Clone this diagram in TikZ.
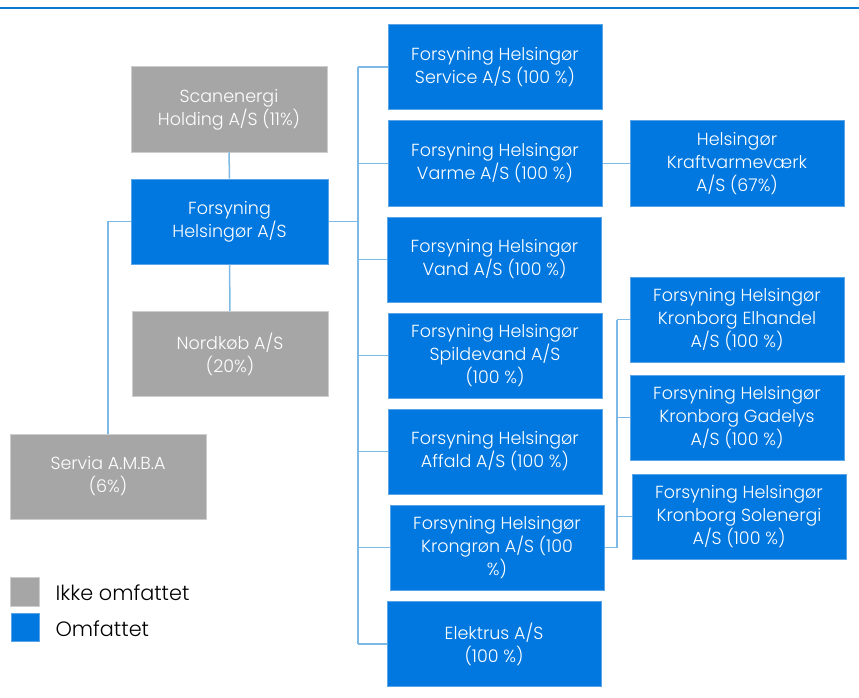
\documentclass[tikz,border=0pt]{standalone}
\usepackage{fontspec}
\setmainfont{Poppins Light}
\definecolor{bfill}{RGB}{0,120,224}
\definecolor{bline}{RGB}{90,165,230}
\definecolor{gfill}{RGB}{166,166,166}
\definecolor{gline}{RGB}{205,205,205}
\definecolor{conn}{RGB}{125,185,228}
\definecolor{topl}{RGB}{10,123,213}
\tikzset{
  box/.style={minimum width=214pt, minimum height=85pt, inner sep=2pt, align=center,
    font=\fontsize{17.5}{23}\selectfont, text=white, line width=1pt},
  bluebox/.style={box, fill=bfill, draw=bline},
  graybox/.style={box, fill=gfill, draw=gline, minimum width=196pt},
  link/.style={draw=conn, line width=1.5pt},
  legtext/.style={anchor=west, font=\fontsize{20.8}{24}\selectfont, text=black}
}
\begin{document}
\begin{tikzpicture}[x=1pt,y=-1pt]
\useasboundingbox (0,0) rectangle (859,698);
\draw[topl, line width=1.8pt] (0,8) -- (859,8);
% left group
\node[graybox] (scan) at (229,109.5) {Scanenergi\\Holding A/S (11\%)};
\node[bluebox, minimum width=197pt] (fh) at (229.5,221.5) {Forsyning\\Helsingør A/S};
\node[graybox] (nord) at (230,354) {Nordkøb A/S\\(20\%)};
\node[graybox] (servia) at (108,476.5) {Servia A.M.B.A\\(6\%)};
% right column
\node[bluebox] (service) at (495,67) {Forsyning Helsingør\\Service A/S (100 \%)};
\node[bluebox] (varme) at (495,163.5) {Forsyning Helsingør\\Varme A/S (100 \%)};
\node[bluebox] (vand) at (494.5,259.5) {Forsyning Helsingør\\Vand A/S (100 \%)};
\node[bluebox] (spilde) at (495,355.5) {Forsyning Helsingør\\Spildevand A/S\\(100 \%)};
\node[bluebox] (affald) at (495,451.5) {Forsyning Helsingør\\Affald A/S (100 \%)};
\node[bluebox] (krong) at (497,547.5) {Forsyning Helsingør\\Krongrøn A/S (100\\\%)};
\node[bluebox] (elek) at (494,644) {Elektrus A/S\\(100 \%)};
% far right
\node[bluebox] (kvv) at (737,163.5) {Helsingør\\Kraftvarmeværk\\A/S (67\%)};
\node[bluebox] (elh) at (737,319.5) {Forsyning Helsingør\\Kronborg Elhandel\\A/S (100 \%)};
\node[bluebox] (gad) at (737,417.5) {Forsyning Helsingør\\Kronborg Gadelys\\A/S (100 \%)};
\node[bluebox] (sol) at (739,516.5) {Forsyning Helsingør\\Kronborg Solenergi\\A/S (100 \%)};
% connectors
\coordinate (sx) at (358,0);
\coordinate (kx) at (617,0);
\draw[link] (scan) -- (fh);
\draw[link] (fh) -- (nord);
\draw[link] (fh.west) -| (servia.north);
\draw[link] (fh.east) -- (fh.east -| sx);
\draw[link] (service.west -| sx) -- (elek.west -| sx);
\foreach \b in {service,varme,vand,spilde,affald,krong,elek}
  \draw[link] (\b.west -| sx) -- (\b.west);
\draw[link] (varme) -- (kvv);
\draw[link] (krong.east) -- (krong.east -| kx) -- (elh.west -| kx);
\foreach \b in {elh,gad,sol}
  \draw[link] (\b.west -| kx) -- (\b.west);
% legend
\node[fill=gfill, draw=gline, line width=1pt, minimum size=29pt, inner sep=0pt] (lg) at (25,592) {};
\node[fill=bfill, draw=bline, line width=1pt, minimum size=28pt, inner sep=0pt] (lb) at (25,627) {};
\node[legtext] (lgt) at (52,593) {Ikke omfattet};
\node[legtext] (lbt) at (52,629) {Omfattet};
\end{tikzpicture}
\end{document}
